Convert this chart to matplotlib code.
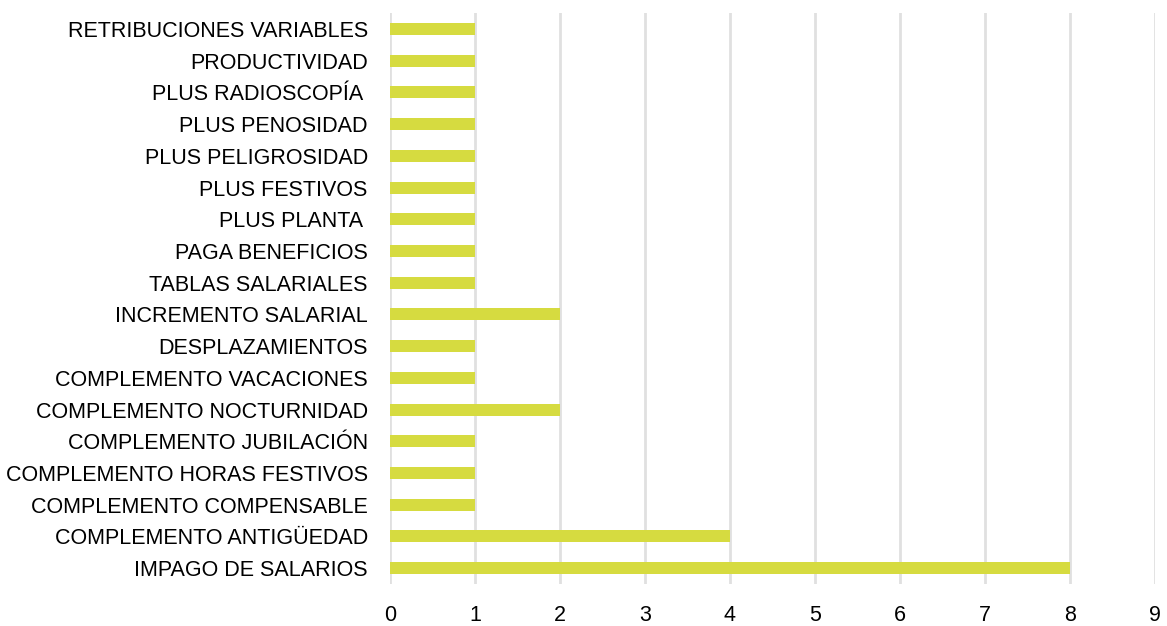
import matplotlib.pyplot as plt

# Conceptos reclamados y número de casos
conceptos = [
    'IMPAGO DE SALARIOS',
    'COMPLEMENTO ANTIGÜEDAD',
    'COMPLEMENTO COMPENSABLE',
    'COMPLEMENTO HORAS FESTIVOS',
    'COMPLEMENTO JUBILACIÓN',
    'COMPLEMENTO NOCTURNIDAD',
    'COMPLEMENTO VACACIONES',
    'DESPLAZAMIENTOS',
    'INCREMENTO SALARIAL',
    'TABLAS SALARIALES',
    'PAGA BENEFICIOS',
    'PLUS PLANTA ',
    'PLUS FESTIVOS',
    'PLUS PELIGROSIDAD',
    'PLUS PENOSIDAD',
    'PLUS RADIOSCOPÍA ',
    'PRODUCTIVIDAD',
    'RETRIBUCIONES VARIABLES',
]
casos = [8, 4, 1, 1, 1, 2, 1, 1, 2, 1, 1, 1, 1, 1, 1, 1, 1, 1]
ticks_x = list(range(0, 10))

plt.rcParams['font.family'] = ['Liberation Sans', 'DejaVu Sans']

fig = plt.figure(figsize=(11.67, 6.26), dpi=100)
ax = fig.add_axes([0.3342, 0.0671, 0.6555, 0.912])

posiciones = list(range(len(conceptos)))
ax.barh(posiciones, casos, height=0.38, color='#D6DB40', zorder=3)

ax.set_xlim(0, 9)
ax.set_ylim(-0.5, len(conceptos) - 0.5)
ax.set_xticks(ticks_x)
ax.set_yticks(posiciones)
ax.set_yticklabels(conceptos)

# Rejilla vertical gris, sin bordes
ax.grid(axis='x', color='#E0E0E0', linewidth=2, zorder=0)
for lado in ax.spines.values():
    lado.set_visible(False)
ax.tick_params(axis='both', length=0, labelsize=15.5, colors='#000000')
ax.tick_params(axis='x', pad=15)
ax.tick_params(axis='y', pad=16)

fig.savefig('out.png', dpi=100)
